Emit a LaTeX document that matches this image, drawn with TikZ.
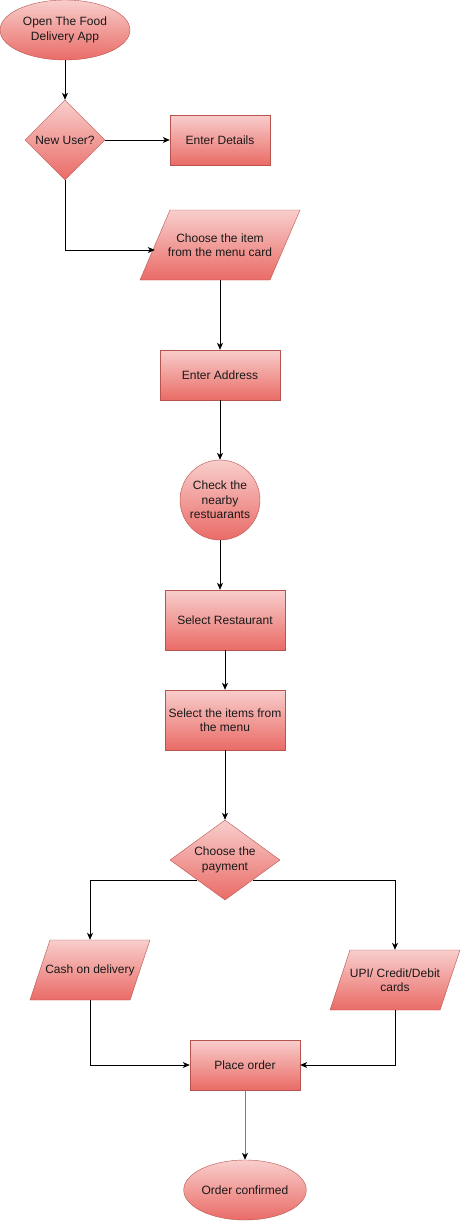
\documentclass[tikz,border=0pt]{standalone}
\usepackage{fontspec}
\setmainfont{Liberation Sans}
\usetikzlibrary{shapes.geometric,arrows.meta}
\definecolor{fillTop}{HTML}{F8CECC}
\definecolor{fillBot}{HTML}{EA6B66}
\definecolor{lineRed}{HTML}{B85450}
\begin{document}
\begin{tikzpicture}[x=1pt,y=-1pt,
	every node/.style={font=\fontsize{12}{14.5}\selectfont, align=center, text=black!90},
	shade box/.style={draw=lineRed, top color=fillTop, bottom color=fillBot, inner sep=0pt},
	terminal/.style={shade box, ellipse},
	process/.style={shade box, rectangle},
	decision/.style={shade box, diamond},
	data/.style={shade box, trapezium, trapezium stretches body},
	flow/.style={line width=0.9pt, -{Stealth[length=7pt,width=6pt,inset=2pt]}}]
	\useasboundingbox (0,0) rectangle (461,1221);
	\node (app)        at ( 65,  30)	[terminal, minimum width=130pt, minimum height=60pt]	{Open The Food\\Delivery App};
	\node (newuser)    at ( 65, 140)	[decision, minimum width=80pt, minimum height=80pt, label=center:{New User?}]	{};
	\node (details)    at (220, 140)	[process, minimum width=100pt, minimum height=50pt]	{Enter Details};
	\node (menucard)   at (220, 245)	[data, trapezium left angle=66.8, trapezium right angle=113.2, inner ysep=35pt, minimum width=160pt, label=center:{Choose the item\\from the menu card}]	{};
	\node (address)    at (220, 375)	[process, minimum width=120pt, minimum height=50pt]	{Enter Address};
	\node (nearby)     at (220, 500)	[shade box, circle, minimum size=80pt]	{Check the\\nearby\\restuarants};
	\node (restaurant) at (225, 620)	[process, minimum width=120pt, minimum height=60pt]	{Select Restaurant};
	\node (items)      at (225, 720)	[process, minimum width=120pt, minimum height=60pt]	{Select the items from\\the menu};
	\node (payment)    at (225, 860)	[decision, minimum width=110pt, minimum height=80pt, label=center:{Choose the\\payment}]	{};
	\node (cash)       at ( 90, 970)	[data, trapezium left angle=71.6, trapezium right angle=108.4, inner ysep=30pt, minimum width=120pt, label=center:{Cash on delivery}]	{};
	\node (upi)        at (395, 980)	[data, trapezium left angle=71.6, trapezium right angle=108.4, inner ysep=30pt, minimum width=130pt, label=center:{UPI/ Credit/Debit\\cards}]	{};
	\node (place)      at (245,1065)	[process, minimum width=110pt, minimum height=50pt]	{Place order};
	\node (confirmed)  at (245,1190)	[terminal, minimum width=116pt, minimum height=60pt]	{Order confirmed};
	\draw[flow] (app) -- (newuser);
	\draw[flow] (newuser) -- (details);
	\draw[flow] (newuser.south) |- ([yshift=-5pt]menucard.west);
	\draw[flow] (menucard) -- (address);
	\draw[flow] (address) -- (nearby);
	\draw[flow] (nearby) -- (nearby |- restaurant.north);
	\draw[flow] (restaurant) -- (items);
	\draw[flow] (items) -- (payment);
	\draw[flow] (payment.south west) -| (cash);
	\draw[flow] (payment.south east) -| (upi);
	\draw[flow] (cash) |- (place);
	\draw[flow] (upi) |- (place);
	\draw[flow, draw=black!50, -{Stealth[length=7pt,width=6pt,inset=2pt,color=black]}] (place) -- (confirmed);
\end{tikzpicture}
\end{document}
